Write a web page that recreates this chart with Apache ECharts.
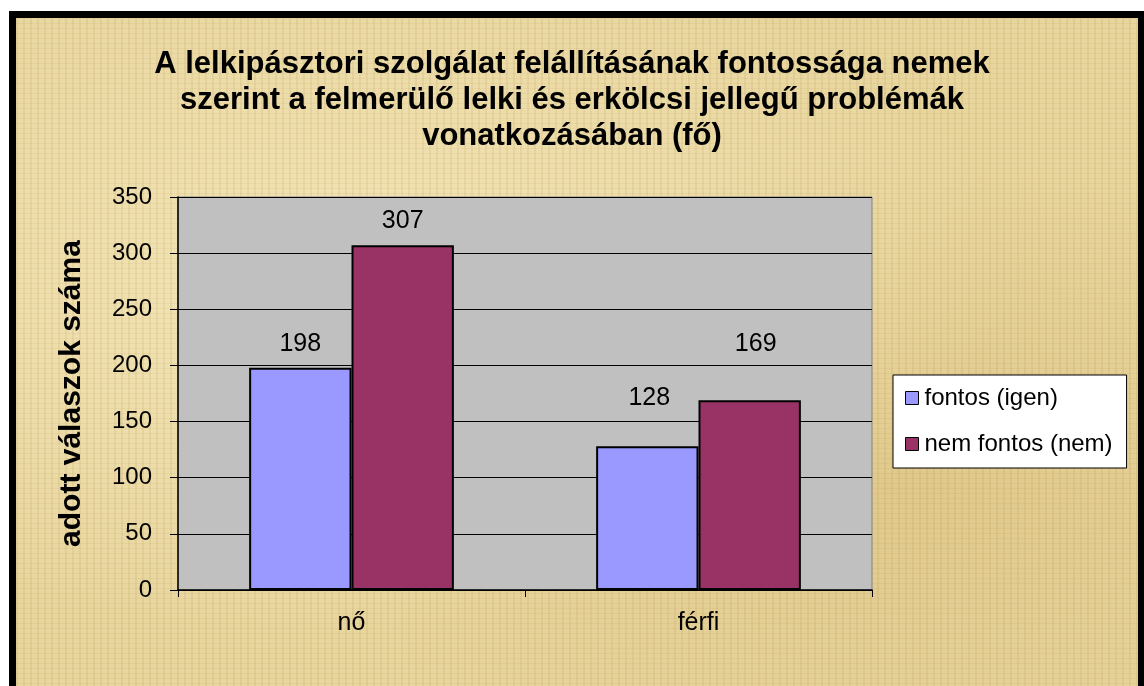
<!DOCTYPE html>
<html>
<head>
<meta charset="utf-8">
<script src="https://cdn.jsdelivr.net/npm/echarts@6/dist/echarts.min.js"></script>
<style>
html,body{margin:0;padding:0;background:#fff;}
#frame{position:absolute;left:9px;top:11px;width:1122px;height:671px;
 border-left:7px solid #000;border-top:7px solid #000;border-right:6px solid #000;
 border-bottom:1px solid #f4ecd6;
 background-color:#e8d69f;
 background-image:
  repeating-linear-gradient(90deg, rgba(160,120,40,0.10) 0px, rgba(160,120,40,0.10) 2px, rgba(255,255,255,0) 2px, rgba(255,255,255,0) 7px),
  repeating-linear-gradient(0deg, rgba(160,120,40,0.08) 0px, rgba(160,120,40,0.08) 1px, rgba(255,255,255,0) 1px, rgba(255,255,255,0) 5px),
  radial-gradient(ellipse at 30% 40%, rgba(255,245,210,0.5), rgba(255,245,210,0) 60%),
  radial-gradient(ellipse at 80% 70%, rgba(200,160,80,0.25), rgba(200,160,80,0) 50%);
}
#chart{position:absolute;left:0;top:0;width:1144px;height:686px;}
</style>
</head>
<body>
<div id="frame"></div>
<div id="chart"></div>
<script>
const categories = ['nő', 'férfi'];
const seriesNames = ['fontos (igen)', 'nem fontos (nem)'];
const fontosValues = [198, 128];
const nemFontosValues = [307, 169];
const yTicks = [0, 50, 100, 150, 200, 250, 300, 350];

const titleText = 'A lelkipásztori szolgálat felállításának fontossága nemek\nszerint a felmerülő lelki és erkölcsi jellegű problémák\nvonatkozásában (fő)';
const yAxisName = 'adott válaszok száma';

const FONT = 'Liberation Sans, Arial, sans-serif';
// label placement (style, not data): [series][category]
const labelDistance = [[11, 36], [12, 44]];
const labelOffsetX = [[0, 2], [0, 6]];

function buildData(values, s) {
  return values.map((v, i) => ({
    value: v,
    label: { distance: labelDistance[s][i], offset: [labelOffsetX[s][i], 0] }
  }));
}

const labelStyle = { show: true, position: 'top', fontFamily: FONT, fontSize: 25, color: '#000' };

const chart = echarts.init(document.getElementById('chart'), null, { renderer: 'canvas' });
chart.setOption({
  backgroundColor: 'transparent',
  animation: false,
  textStyle: { fontFamily: FONT },
  title: {
    text: titleText,
    left: 'center',
    top: 41,
    textStyle: { fontFamily: FONT, fontSize: 31, fontWeight: 'bold', color: '#000', lineHeight: 36 }
  },
  legend: {
    orient: 'vertical',
    left: 893,
    top: 375,
    backgroundColor: '#fff',
    borderColor: '#000',
    borderWidth: 1,
    padding: [11, 14, 12, 12],
    itemGap: 22,
    itemWidth: 13,
    itemHeight: 13,
    icon: 'rect',
    itemStyle: { borderColor: '#000', borderWidth: 1 },
    textStyle: { fontFamily: FONT, fontSize: 24, color: '#000', padding: [0, 0, 0, 1] },
    data: seriesNames
  },
  grid: {
    left: 178,
    top: 197,
    right: 272,
    bottom: 96,
    show: true,
    backgroundColor: '#c0c0c0',
    borderColor: '#808080',
    borderWidth: 1
  },
  xAxis: {
    type: 'category',
    data: categories,
    axisLine: { show: true, lineStyle: { color: '#000', width: 1.5 } },
    axisTick: { show: true, length: 7, lineStyle: { color: '#000' } },
    axisLabel: { fontFamily: FONT, fontSize: 25, color: '#000', margin: 21 }
  },
  yAxis: {
    type: 'value',
    min: yTicks[0],
    max: yTicks[yTicks.length - 1],
    interval: yTicks[1] - yTicks[0],
    name: yAxisName,
    nameLocation: 'middle',
    nameRotate: 90,
    nameGap: 91,
    nameTextStyle: { fontFamily: FONT, fontSize: 30, fontWeight: 'bold', color: '#000' },
    axisLine: { show: true, lineStyle: { color: '#000', width: 1.5 } },
    axisTick: { show: true, length: 8, lineStyle: { color: '#000' } },
    axisLabel: { fontFamily: FONT, fontSize: 24, color: '#000', margin: 26 },
    splitLine: { show: true, lineStyle: { color: '#000', width: 1 } }
  },
  series: [
    {
      name: seriesNames[0],
      type: 'bar',
      data: buildData(fontosValues, 0),
      barGap: '0%',
      barCategoryGap: '41%',
      itemStyle: { color: '#9999ff', borderColor: '#000', borderWidth: 2 },
      label: labelStyle
    },
    {
      name: seriesNames[1],
      type: 'bar',
      data: buildData(nemFontosValues, 1),
      barGap: '0%',
      barCategoryGap: '41%',
      itemStyle: { color: '#993366', borderColor: '#000', borderWidth: 2 },
      label: labelStyle
    }
  ]
});
</script>
</body>
</html>
